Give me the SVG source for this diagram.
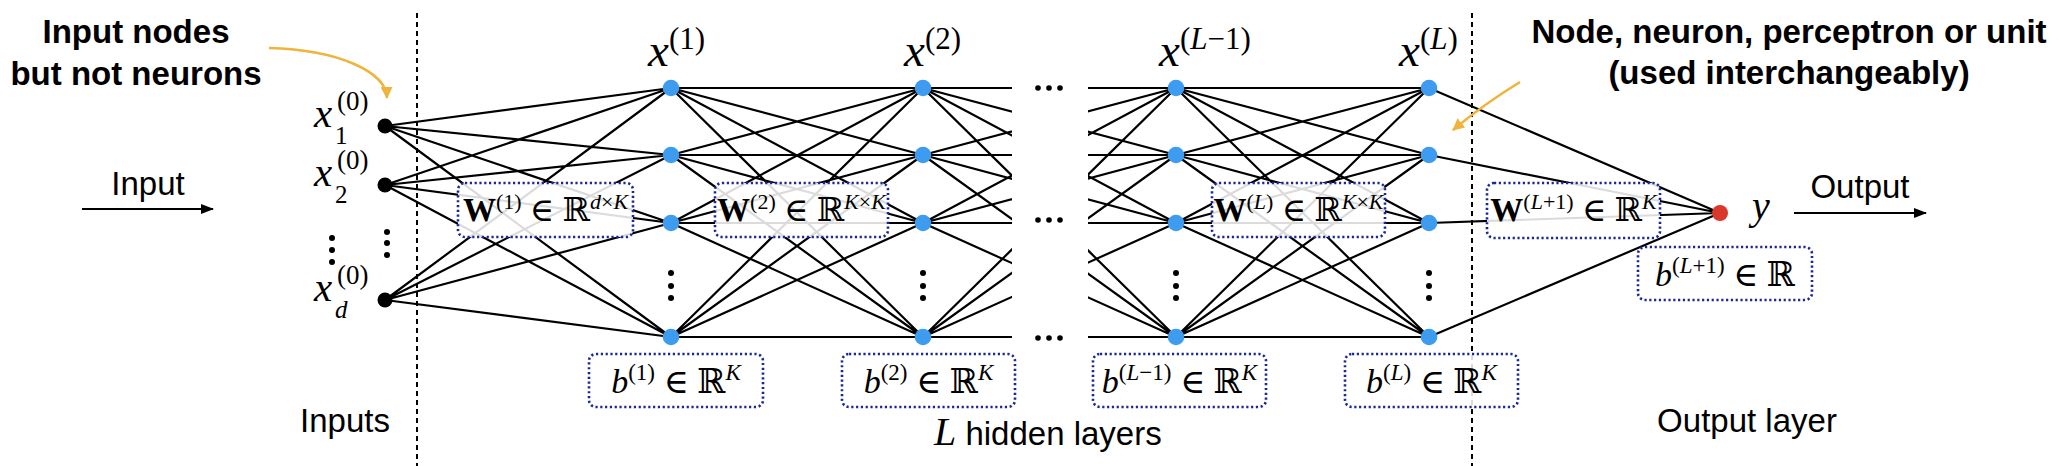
<svg xmlns="http://www.w3.org/2000/svg" width="2062" height="466" viewBox="0 0 2062 466">
<style>
.edge{stroke:#000;stroke-width:2.2;fill:none}
.sep{stroke:#000;stroke-width:2;stroke-dasharray:5 4}
.box{fill:#fff;fill-opacity:0.86;stroke:#1a2896;stroke-width:2.6;stroke-dasharray:2.2 2.6}
.hid{fill:#3d9cf0}
.inp{fill:#000}
.out{fill:#d9382a}
.dot{fill:#000}
.math{font-family:"Liberation Serif","DejaVu Serif",serif;fill:#000}
.it{font-style:italic}
.sans{font-family:"Liberation Sans",Arial,sans-serif;fill:#000}
.bold{font-weight:bold}
.orange{stroke:#f0b43c;stroke-width:2.6;fill:none}
.arr{stroke:#000;stroke-width:2;fill:none}
</style>
<defs>
<marker id="ah-or" markerUnits="userSpaceOnUse" markerWidth="14" markerHeight="14" refX="11" refY="6" orient="auto">
<path d="M0,0 L12,6 L0,12 Z" fill="#f0b43c"/>
</marker>
<marker id="ah-bk" markerUnits="userSpaceOnUse" markerWidth="14" markerHeight="12" refX="12" refY="5" orient="auto">
<path d="M0,0 L13,5 L0,10 Z" fill="#000"/>
</marker>
<clipPath id="gap">
<rect x="0" y="0" width="1012" height="466"/>
<rect x="1088" y="0" width="974" height="466"/>
</clipPath>
</defs>
<rect width="2062" height="466" fill="#fff"/>

<g id="separators">
<line class="sep" x1="417" y1="13" x2="417" y2="466"/>
<line class="sep" x1="1472" y1="13" x2="1472" y2="466"/>
</g>

<g id="connectors">
<path class="edge" d="M385,126L671,88M385,126L671,155M385,126L671,223M385,126L671,337M385,185L671,88M385,185L671,155M385,185L671,223M385,185L671,337M385,300L671,88M385,300L671,155M385,300L671,223M385,300L671,337"/>
<path class="edge" d="M671,88L923,88M671,88L923,155M671,88L923,223M671,88L923,337M671,155L923,88M671,155L923,155M671,155L923,223M671,155L923,337M671,223L923,88M671,223L923,155M671,223L923,223M671,223L923,337M671,337L923,88M671,337L923,155M671,337L923,223M671,337L923,337"/>
<path class="edge" clip-path="url(#gap)" d="M923,88L1176,88M923,88L1176,155M923,88L1176,223M923,88L1176,337M923,155L1176,88M923,155L1176,155M923,155L1176,223M923,155L1176,337M923,223L1176,88M923,223L1176,155M923,223L1176,223M923,223L1176,337M923,337L1176,88M923,337L1176,155M923,337L1176,223M923,337L1176,337"/>
<path class="edge" d="M1176,88L1429,88M1176,88L1429,155M1176,88L1429,223M1176,88L1429,337M1176,155L1429,88M1176,155L1429,155M1176,155L1429,223M1176,155L1429,337M1176,223L1429,88M1176,223L1429,155M1176,223L1429,223M1176,223L1429,337M1176,337L1429,88M1176,337L1429,155M1176,337L1429,223M1176,337L1429,337"/>
<path class="edge" d="M1429,88L1720,213M1429,155L1720,213M1429,223L1720,213M1429,337L1720,213"/>
<line class="arr" x1="82" y1="209" x2="213" y2="209" marker-end="url(#ah-bk)"/>
<line class="arr" x1="1794" y1="213" x2="1926" y2="213" marker-end="url(#ah-bk)"/>
<path class="orange" d="M269,48 C340,50 386,72 387,98" marker-end="url(#ah-or)"/>
<path class="orange" d="M1520,82 Q1484,104 1453,130" marker-end="url(#ah-or)"/>
</g>

<g id="ellipses">
<circle class="dot" cx="332" cy="238" r="3"/><circle class="dot" cx="332" cy="250" r="3"/><circle class="dot" cx="332" cy="262" r="3"/>
<circle class="dot" cx="387" cy="232" r="3"/><circle class="dot" cx="387" cy="243" r="3"/><circle class="dot" cx="387" cy="255" r="3"/>
<circle class="dot" cx="671" cy="273" r="3"/><circle class="dot" cx="671" cy="286" r="3"/><circle class="dot" cx="671" cy="298" r="3"/>
<circle class="dot" cx="923" cy="273" r="3"/><circle class="dot" cx="923" cy="286" r="3"/><circle class="dot" cx="923" cy="298" r="3"/>
<circle class="dot" cx="1176" cy="273" r="3"/><circle class="dot" cx="1176" cy="286" r="3"/><circle class="dot" cx="1176" cy="298" r="3"/>
<circle class="dot" cx="1429" cy="273" r="3"/><circle class="dot" cx="1429" cy="286" r="3"/><circle class="dot" cx="1429" cy="298" r="3"/>
<circle class="dot" cx="1038" cy="88" r="2.8"/><circle class="dot" cx="1049" cy="88" r="2.8"/><circle class="dot" cx="1060" cy="88" r="2.8"/>
<circle class="dot" cx="1038" cy="220" r="2.8"/><circle class="dot" cx="1049" cy="220" r="2.8"/><circle class="dot" cx="1060" cy="220" r="2.8"/>
<circle class="dot" cx="1038" cy="338" r="2.8"/><circle class="dot" cx="1049" cy="338" r="2.8"/><circle class="dot" cx="1060" cy="338" r="2.8"/>
</g>

<g id="input-1"><circle class="inp" cx="385" cy="126" r="7.5"/>
<text class="math it" x="314" y="127" font-size="41">x</text><text class="math" x="337" y="110" font-size="27">(0)</text><text class="math" x="335" y="144" font-size="25">1</text></g>
<g id="input-2"><circle class="inp" cx="385" cy="185" r="7.5"/>
<text class="math it" x="314" y="186" font-size="41">x</text><text class="math" x="337" y="169" font-size="27">(0)</text><text class="math" x="335" y="203" font-size="25">2</text></g>
<g id="input-d"><circle class="inp" cx="385" cy="300" r="7.5"/>
<text class="math it" x="314" y="301" font-size="41">x</text><text class="math" x="337" y="284" font-size="27">(0)</text><text class="math it" x="335" y="318" font-size="25">d</text></g>

<g id="h1-1"><circle class="hid" cx="671" cy="88" r="8.3"/></g>
<g id="h1-2"><circle class="hid" cx="671" cy="155" r="8.3"/></g>
<g id="h1-3"><circle class="hid" cx="671" cy="223" r="8.3"/></g>
<g id="h1-K"><circle class="hid" cx="671" cy="337" r="8.3"/></g>
<g id="h2-1"><circle class="hid" cx="923" cy="88" r="8.3"/></g>
<g id="h2-2"><circle class="hid" cx="923" cy="155" r="8.3"/></g>
<g id="h2-3"><circle class="hid" cx="923" cy="223" r="8.3"/></g>
<g id="h2-K"><circle class="hid" cx="923" cy="337" r="8.3"/></g>
<g id="hL1-1"><circle class="hid" cx="1176" cy="88" r="8.3"/></g>
<g id="hL1-2"><circle class="hid" cx="1176" cy="155" r="8.3"/></g>
<g id="hL1-3"><circle class="hid" cx="1176" cy="223" r="8.3"/></g>
<g id="hL1-K"><circle class="hid" cx="1176" cy="337" r="8.3"/></g>
<g id="hL-1"><circle class="hid" cx="1429" cy="88" r="8.3"/></g>
<g id="hL-2"><circle class="hid" cx="1429" cy="155" r="8.3"/></g>
<g id="hL-3"><circle class="hid" cx="1429" cy="223" r="8.3"/></g>
<g id="hL-K"><circle class="hid" cx="1429" cy="337" r="8.3"/></g>
<g id="output"><circle class="out" cx="1720" cy="213" r="8"/>
<text class="math it" x="1752" y="219" font-size="40">y</text></g>

<g id="layer-labels">
<text class="math" x="648" y="66" font-size="47"><tspan class="it">x</tspan><tspan dy="-17" font-size="31">(1)</tspan></text>
<text class="math" x="904" y="66" font-size="47"><tspan class="it">x</tspan><tspan dy="-17" font-size="31">(2)</tspan></text>
<text class="math" x="1159" y="66" font-size="47"><tspan class="it">x</tspan><tspan dy="-17" font-size="31">(</tspan><tspan font-size="31" class="it">L</tspan><tspan font-size="31">−1)</tspan></text>
<text class="math" x="1399" y="66" font-size="47"><tspan class="it">x</tspan><tspan dy="-17" font-size="31">(</tspan><tspan font-size="31" class="it">L</tspan><tspan font-size="31">)</tspan></text>
</g>

<g id="W1"><rect class="box" x="458" y="183" width="175" height="54" rx="7"/>
<text class="math" x="545.5" y="221" font-size="33" text-anchor="middle"><tspan class="bold">W</tspan><tspan dy="-12" font-size="22">(1)</tspan><tspan dy="12"> ∈ ℝ</tspan><tspan dy="-12" font-size="22" class="it">d</tspan><tspan font-size="22">×</tspan><tspan font-size="22" class="it">K</tspan></text></g>
<g id="W2"><rect class="box" x="715" y="183" width="173" height="54" rx="7"/>
<text class="math" x="801.5" y="221" font-size="33" text-anchor="middle"><tspan class="bold">W</tspan><tspan dy="-12" font-size="22">(2)</tspan><tspan dy="12"> ∈ ℝ</tspan><tspan dy="-12" font-size="22" class="it">K</tspan><tspan font-size="22">×</tspan><tspan font-size="22" class="it">K</tspan></text></g>
<g id="WL"><rect class="box" x="1212" y="183" width="173" height="54" rx="7"/>
<text class="math" x="1298.5" y="221" font-size="33" text-anchor="middle"><tspan class="bold">W</tspan><tspan dy="-12" font-size="22">(</tspan><tspan font-size="22" class="it">L</tspan><tspan font-size="22">)</tspan><tspan dy="12"> ∈ ℝ</tspan><tspan dy="-12" font-size="22" class="it">K</tspan><tspan font-size="22">×</tspan><tspan font-size="22" class="it">K</tspan></text></g>
<g id="WL1"><rect class="box" x="1487" y="183" width="173" height="55" rx="7"/>
<text class="math" x="1573.5" y="221" font-size="33" text-anchor="middle"><tspan class="bold">W</tspan><tspan dy="-12" font-size="22">(</tspan><tspan font-size="22" class="it">L</tspan><tspan font-size="22">+1)</tspan><tspan dy="12"> ∈ ℝ</tspan><tspan dy="-12" font-size="22" class="it">K</tspan></text></g>

<g id="b1"><rect class="box" x="589" y="354" width="174" height="53" rx="7"/>
<text class="math" x="676" y="393" font-size="34" text-anchor="middle"><tspan class="it">b</tspan><tspan dy="-13" font-size="23">(1)</tspan><tspan dy="13"> ∈ ℝ</tspan><tspan dy="-13" font-size="23" class="it">K</tspan></text></g>
<g id="b2"><rect class="box" x="842" y="354" width="173" height="53" rx="7"/>
<text class="math" x="928.5" y="393" font-size="34" text-anchor="middle"><tspan class="it">b</tspan><tspan dy="-13" font-size="23">(2)</tspan><tspan dy="13"> ∈ ℝ</tspan><tspan dy="-13" font-size="23" class="it">K</tspan></text></g>
<g id="bL1"><rect class="box" x="1093" y="354" width="173" height="53" rx="7"/>
<text class="math" x="1179.5" y="393" font-size="34" text-anchor="middle"><tspan class="it">b</tspan><tspan dy="-13" font-size="23">(</tspan><tspan font-size="23" class="it">L</tspan><tspan font-size="23">−1)</tspan><tspan dy="13"> ∈ ℝ</tspan><tspan dy="-13" font-size="23" class="it">K</tspan></text></g>
<g id="bL"><rect class="box" x="1345" y="354" width="173" height="53" rx="7"/>
<text class="math" x="1431.5" y="393" font-size="34" text-anchor="middle"><tspan class="it">b</tspan><tspan dy="-13" font-size="23">(</tspan><tspan font-size="23" class="it">L</tspan><tspan font-size="23">)</tspan><tspan dy="13"> ∈ ℝ</tspan><tspan dy="-13" font-size="23" class="it">K</tspan></text></g>
<g id="bOut"><rect class="box" x="1638" y="247" width="174" height="53" rx="7"/>
<text class="math" x="1725" y="286" font-size="34" text-anchor="middle"><tspan class="it">b</tspan><tspan dy="-13" font-size="23">(</tspan><tspan font-size="23" class="it">L</tspan><tspan font-size="23">+1)</tspan><tspan dy="13"> ∈ ℝ</tspan></text></g>

<g id="annotations">
<text class="sans bold" x="136" y="43" font-size="33" text-anchor="middle">Input nodes</text>
<text class="sans bold" x="136" y="85" font-size="33" text-anchor="middle">but not neurons</text>
<text class="sans bold" x="1789" y="43" font-size="33" text-anchor="middle">Node, neuron, perceptron or unit</text>
<text class="sans bold" x="1789" y="84" font-size="33" text-anchor="middle">(used interchangeably)</text>
<text class="sans" x="148" y="195" font-size="33" text-anchor="middle">Input</text>
<text class="sans" x="1860" y="198" font-size="33" text-anchor="middle">Output</text>
<text class="sans" x="345" y="432" font-size="33" text-anchor="middle">Inputs</text>
<text class="sans" x="1747" y="432" font-size="33" text-anchor="middle">Output layer</text>
<text x="934" y="445"><tspan class="math it" font-size="40">L</tspan><tspan class="sans" font-size="33"> hidden layers</tspan></text>
</g>
</svg>
